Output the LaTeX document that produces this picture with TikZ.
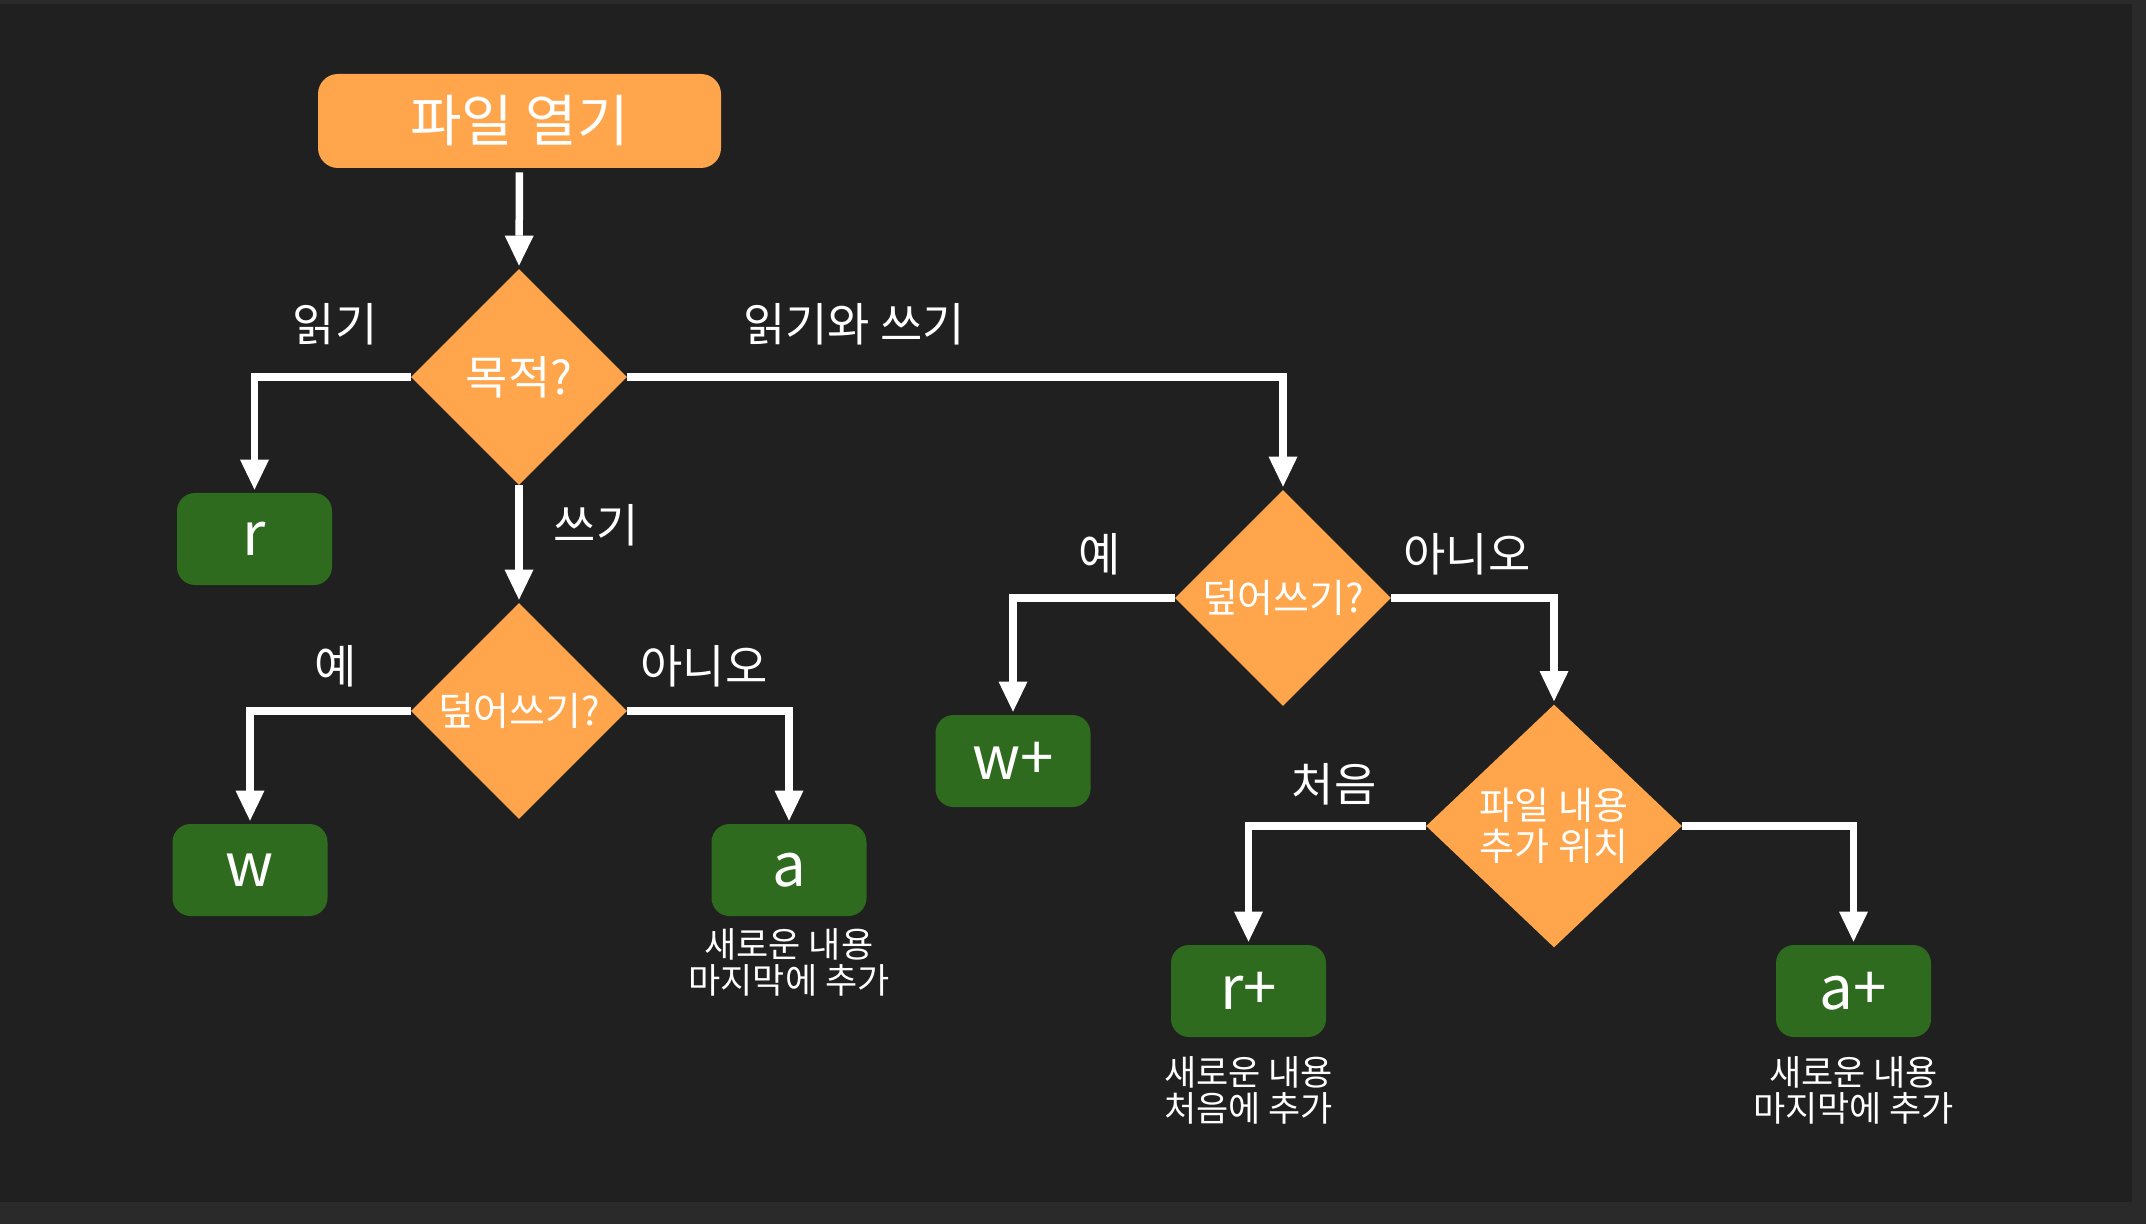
\documentclass[tikz,border=0pt]{standalone}
\usepackage{fontspec}
\newfontfamily\krfont{Noto Sans CJK KR}
\usetikzlibrary{shapes.geometric,arrows.meta}

\definecolor{bgdark}{HTML}{202020}
\definecolor{bgframe}{HTML}{2A2A2A}
\definecolor{floworange}{HTML}{FFA54B}
\definecolor{modegreen}{HTML}{2F6B1E}

\tikzset{
  startbox/.style={fill=floworange, rounded corners=10pt, minimum width=201.5pt,
    minimum height=47pt, text=white, font=\krfont\fontsize{28}{32}\selectfont},
  ask/.style={diamond, fill=floworange, aspect=1, inner sep=0pt, minimum width=108pt,
    minimum height=108pt, text=white, align=center},
  modebox/.style={fill=modegreen, rounded corners=9pt, minimum width=77.5pt,
    minimum height=46pt, text=white, font=\krfont\fontsize{30}{34}\selectfont},
  branch/.style={text=white, font=\krfont\fontsize{23}{26}\selectfont},
  note/.style={text=white, align=center, font=\krfont\fontsize{17.5}{18}\selectfont},
  flow/.style={draw=white, line width=3.75pt, shorten >=1.5pt,
    -{Triangle[width=14.5pt,length=15pt,line width=0pt]}},
}

\begin{document}
\begin{tikzpicture}[x=0.5pt, y=-0.5pt]
  % frame
  \fill[bgframe] (0,0) rectangle (2146,1224);
  \fill[bgdark] (0,4) rectangle (2132,1202);
  \useasboundingbox (0,0) rectangle (2146,1224);

  % start and first question
  \node[startbox] (open) at (519.5,121) {파일 열기};
  \node[ask, font=\krfont\fontsize{23}{26}\selectfont] (purpose) at (519,377) {목적?};
  \node[modebox] (r) at (254.5,539) {r};

  % write only
  \node[ask, font=\krfont\fontsize{19.5}{22}\selectfont] (overL) at (519,711) {덮어쓰기?};
  \node[modebox] (w) at (250,870) {w};
  \node[modebox] (a) at (789,870) {a};
  \node[note] (noteA) at (789,962) {새로운 내용\\마지막에 추가};

  % read and write
  \node[ask, font=\krfont\fontsize{19.5}{22}\selectfont] (overR) at (1283,598) {덮어쓰기?};
  \node[modebox] (wp) at (1013,761) {w+};
  \node[ask, aspect=1.05, minimum width=128pt, minimum height=121.5pt,
    font=\krfont\fontsize{19}{20.5}\selectfont] (where) at (1554,826) {파일 내용\\추가 위치};
  \node[modebox] (rp) at (1248.5,991) {r+};
  \node[modebox] (ap) at (1853.5,991) {a+};
  \node[note] (noteRp) at (1248.5,1090) {새로운 내용\\처음에 추가};
  \node[note] (noteAp) at (1853.5,1090) {새로운 내용\\마지막에 추가};

  % branch labels
  \node[branch] (lRead) at (335,324) {읽기};
  \node[branch] (lBoth) at (854,324) {읽기와 쓰기};
  \node[branch] (lWrite) at (596,525) {쓰기};
  \node[branch] (lYesL) at (336,666) {예};
  \node[branch] (lNoL) at (704,666) {아니오};
  \node[branch] (lYesR) at (1100,554) {예};
  \node[branch] (lNoR) at (1467,554) {아니오};
  \node[branch] (lFirst) at (1334,784) {처음};

  % connectors
  \draw[flow, shorten <=2pt] (open.south) -- (purpose.north);
  \draw[flow] (purpose.west) -| (r.north);
  \draw[flow] (purpose.east) -| (overR.north);
  \draw[flow] (purpose.south) -- (overL.north);
  \draw[flow] (overL.west) -| (w.north);
  \draw[flow] (overL.east) -| (a.north);
  \draw[flow] (overR.west) -| (wp.north);
  \draw[flow] (overR.east) -| (where.north);
  \draw[flow] (where.west) -| (rp.north);
  \draw[flow] (where.east) -| (ap.north);
\end{tikzpicture}
\end{document}
